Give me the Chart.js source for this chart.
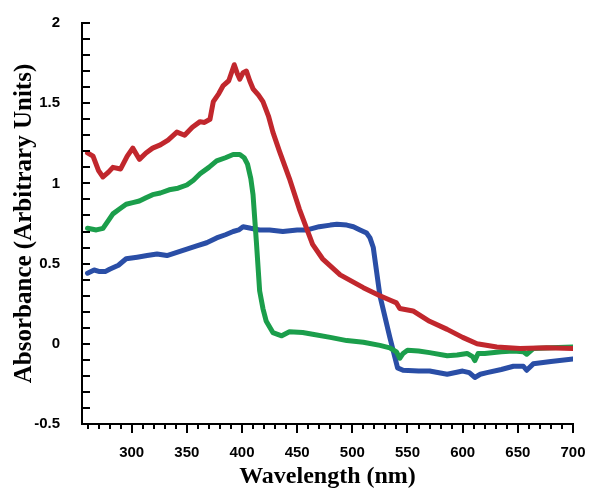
<!DOCTYPE html>
<html>
<head>
<meta charset="utf-8">
<script src="https://cdn.jsdelivr.net/npm/chart.js@4.4.0/dist/chart.umd.min.js"></script>
<style>
  body { margin: 0; background: #fff; }
</style>
</head>
<body>
<canvas id="myChart" width="589" height="491"></canvas>
<script>
// wavelength (nm) and absorbance
const redNm = [260, 265, 270, 274, 279, 283, 290, 296, 301, 307, 313, 319, 326, 333, 341, 348, 355, 362, 366, 371,
    374, 379, 383, 388, 393, 396, 398, 401, 404, 407, 410, 415, 419, 424, 428, 434, 443, 452, 464, 473,
    489, 510, 525, 535, 540, 543, 555, 570, 586, 600, 613, 631, 652, 676, 700];
const redAbs = [1.19, 1.17, 1.08, 1.04, 1.07, 1.10, 1.09, 1.17, 1.22, 1.15, 1.19, 1.22, 1.24, 1.27, 1.32, 1.30, 1.35, 1.385, 1.38, 1.40,
    1.51, 1.56, 1.61, 1.64, 1.74, 1.68, 1.65, 1.69, 1.70, 1.64, 1.59, 1.55, 1.51, 1.42, 1.32, 1.20, 1.03, 0.84, 0.62, 0.53,
    0.43, 0.35, 0.30, 0.27, 0.255, 0.22, 0.205, 0.14, 0.09, 0.04, 0.0, -0.02, -0.03, -0.025, -0.03];

const greenNm = [260, 268, 274, 279, 283, 289, 295, 301, 307, 313, 319, 326, 334, 342, 350, 356, 362, 370, 377, 385,
    392, 398, 402, 405, 408, 410, 413, 416, 419, 422, 428, 436, 443, 455, 464, 480, 495, 510, 525, 534,
    540, 543, 546, 550, 560, 570, 586, 595, 604, 609, 611, 614, 620, 635, 646, 655, 658, 664, 680, 700];
const greenAbs = [0.72, 0.71, 0.72, 0.77, 0.81, 0.84, 0.87, 0.88, 0.89, 0.91, 0.93, 0.94, 0.96, 0.97, 0.99, 1.02, 1.06, 1.10, 1.14, 1.16,
    1.18, 1.18, 1.16, 1.12, 1.03, 0.93, 0.64, 0.33, 0.22, 0.14, 0.07, 0.05, 0.075, 0.07, 0.06, 0.04, 0.02, 0.01, -0.01, -0.025,
    -0.05, -0.09, -0.06, -0.04, -0.045, -0.055, -0.075, -0.07, -0.06, -0.08, -0.105, -0.06, -0.06, -0.05, -0.045, -0.05, -0.065, -0.03, -0.025, -0.02];

const blueNm = [260, 266, 271, 276, 280, 288, 295, 305, 314, 323, 332, 341, 350, 359, 368, 377, 385, 392, 397, 401,
    408, 416, 425, 437, 450, 459, 470, 480, 486, 495, 501, 507, 513, 516, 519, 525, 534, 541, 546, 560,
    570, 586, 600, 606, 611, 616, 622, 635, 646, 655, 658, 664, 680, 700];
const blueAbs = [0.44, 0.46, 0.45, 0.45, 0.465, 0.49, 0.53, 0.54, 0.55, 0.56, 0.55, 0.57, 0.59, 0.61, 0.63, 0.66, 0.68, 0.70, 0.71, 0.73,
    0.72, 0.71, 0.71, 0.70, 0.71, 0.71, 0.73, 0.74, 0.745, 0.74, 0.73, 0.71, 0.69, 0.66, 0.60, 0.30, 0.04, -0.15, -0.165, -0.17,
    -0.17, -0.19, -0.17, -0.18, -0.21, -0.19, -0.18, -0.16, -0.14, -0.14, -0.165, -0.125, -0.11, -0.095];

// axis ranges / ticks
const xMin = 255, xMax = 700, xMajor = 50, xMinor = 10;
const yMin = -0.5, yMax = 2, yMajor = 0.5, yMinor = 0.1;

function pts(xs, ys) {
    return xs.map(function(x, i) { return { x: x, y: ys[i] }; });
}

// hand drawn tick marks: x ticks point down, y ticks point into the plot
const tickMarks = {
    id: 'tickMarks',
    afterDraw: function(chart) {
        const ctx = chart.ctx;
        const xs = chart.scales.x, ys = chart.scales.y;
        const area = chart.chartArea;
        ctx.save();
        ctx.strokeStyle = '#000';
        ctx.lineWidth = 2;
        ctx.beginPath();
        for (let v = 260; v <= xMax + 0.01; v += xMinor) {
            const px = Math.round(xs.getPixelForValue(v));
            const len = (v % xMajor === 0) ? 9 : 5;
            ctx.moveTo(px, area.bottom);
            ctx.lineTo(px, area.bottom + len);
        }
        for (let i = 0; i <= Math.round((yMax - yMin) / yMinor); i++) {
            const v = yMin + i * yMinor;
            const py = Math.round(ys.getPixelForValue(v));
            ctx.moveTo(area.left, py);
            ctx.lineTo(area.left + 8, py);
        }
        ctx.stroke();
        ctx.restore();
    }
};

const tickFont = { family: '"Liberation Sans", Arial, sans-serif', size: 15, weight: 'bold' };

const ctx = document.getElementById('myChart').getContext('2d');
const myChart = new Chart(ctx, {
    type: 'line',
    data: {
        datasets: [
            { label: 'red', data: pts(redNm, redAbs), borderColor: '#c1272d' },
            { label: 'green', data: pts(greenNm, greenAbs), borderColor: '#1b9e4b' },
            { label: 'blue', data: pts(blueNm, blueAbs), borderColor: '#2a4ea6' }
        ]
    },
    options: {
        responsive: false,
        animation: false,
        layout: { padding: { top: 20, right: 16, left: 0, bottom: 0 } },
        elements: {
            point: { radius: 0 },
            line: { borderWidth: 5, tension: 0, borderJoinStyle: 'round', borderCapStyle: 'round' }
        },
        plugins: { legend: { display: false }, tooltip: { enabled: false } },
        scales: {
            x: {
                type: 'linear',
                min: xMin,
                max: xMax,
                grid: { display: false },
                border: { display: true, color: '#000', width: 2 },
                ticks: {
                    stepSize: xMajor,
                    includeBounds: false,
                    padding: 12,
                    color: '#000',
                    font: tickFont,
                    maxRotation: 0,
                    callback: function(v) { return v % xMajor === 0 ? v : ''; }
                },
                title: {
                    display: true, text: 'Wavelength (nm)', color: '#000',
                    font: { family: '"Liberation Serif", "Times New Roman", serif', size: 24, weight: 'bold' },
                    padding: { top: 0, bottom: 0 }
                },
                afterFit: function(scale) {
                    scale.height = 67;
                    scale.paddingLeft = 0;
                    scale.paddingRight = 0;
                }
            },
            y: {
                type: 'linear',
                min: yMin,
                max: yMax,
                grid: { display: false },
                border: { display: true, color: '#000', width: 2 },
                ticks: {
                    stepSize: yMajor,
                    padding: 14,
                    color: '#000',
                    font: tickFont,
                    callback: function(v) { return String(Math.round(v * 10) / 10); }
                },
                title: {
                    display: true, text: 'Absorbance (Arbitrary Units)', color: '#000',
                    font: { family: '"Liberation Serif", "Times New Roman", serif', size: 25, weight: 'bold' },
                    padding: { top: 10, bottom: 0 }
                },
                afterFit: function(scale) { scale.width = 82; }
            }
        }
    },
    plugins: [tickMarks]
});
</script>
</body>
</html>
